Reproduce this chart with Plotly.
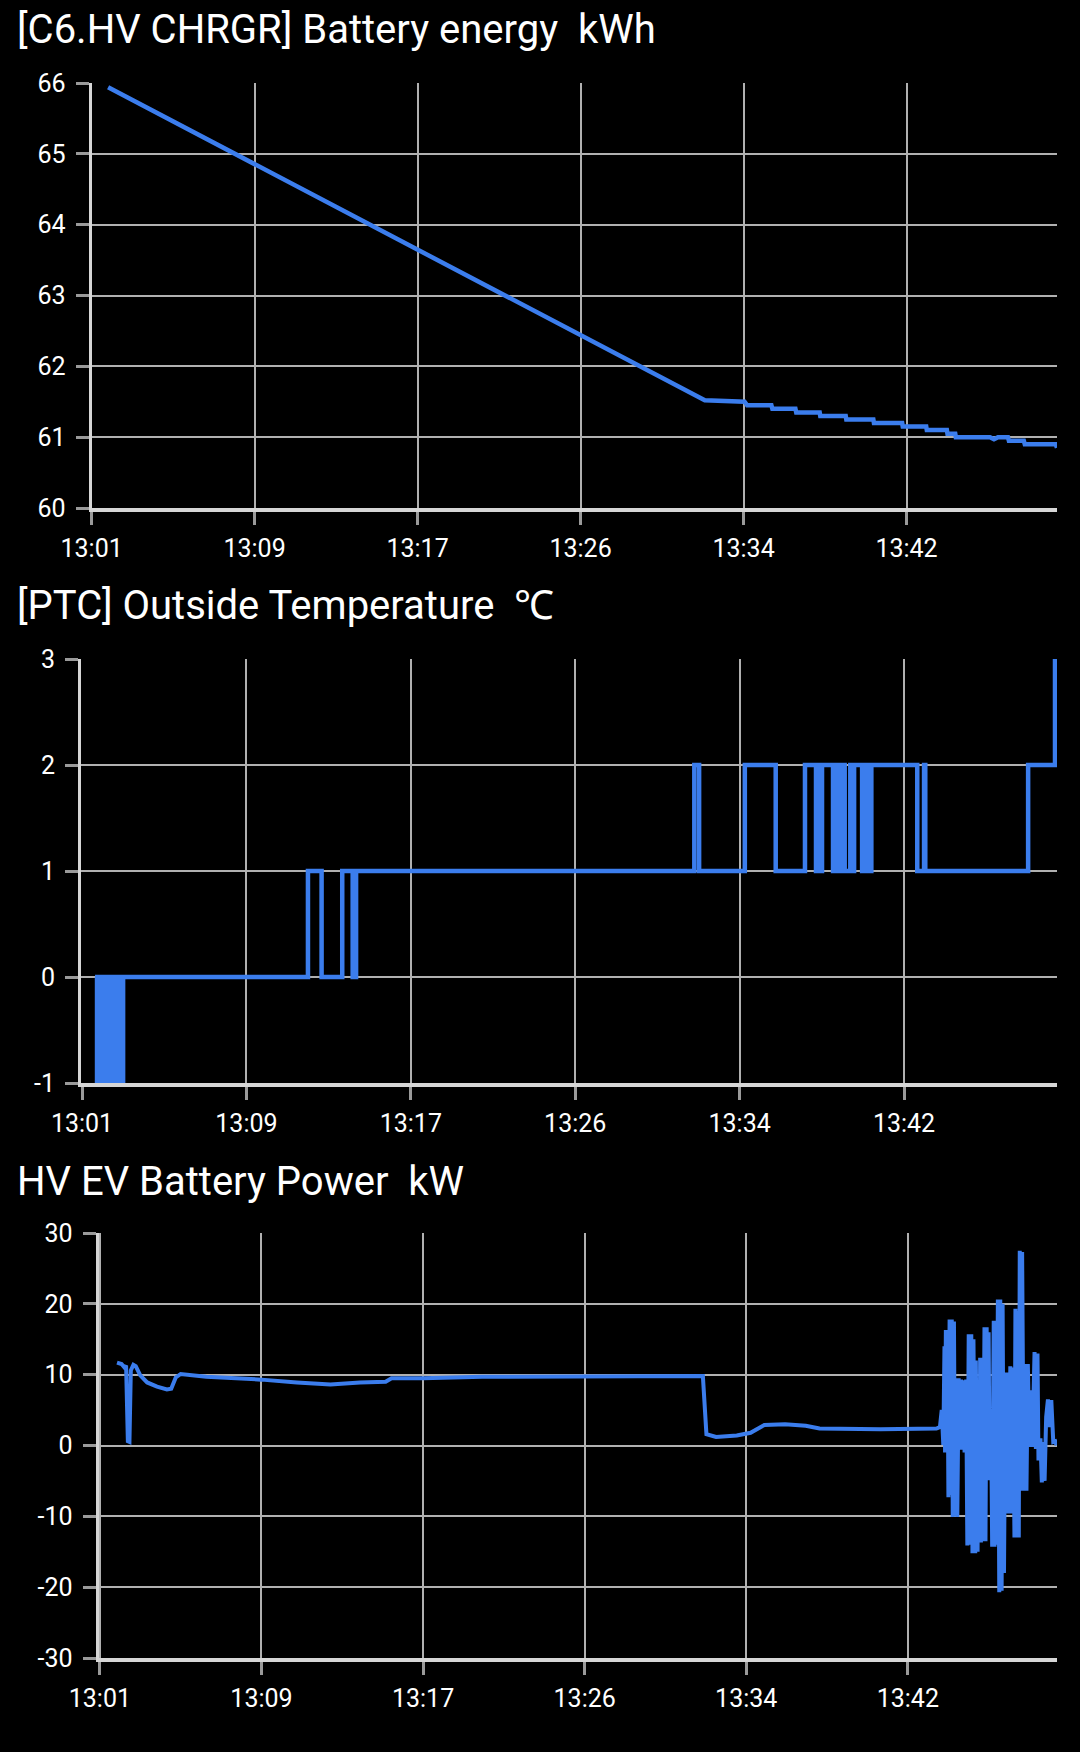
import plotly.graph_objects as go

# ---------------- data ----------------
tick_times = [0, 8.2, 16.4, 24.6, 32.8, 41.0]          # minutes after 13:01
tick_labels = ["13:01", "13:09", "13:17", "13:26", "13:34", "13:42"]

energy_t = [0.83, 30.85, 32.85, 32.98, 34.20, 34.25, 35.41, 35.45, 36.63, 36.66,
            37.94, 37.97, 39.33, 39.36, 40.78, 40.81, 41.99, 42.02, 43.03, 43.06,
            43.45, 43.48, 45.20, 45.40, 45.60, 46.10, 46.15, 46.90, 46.95, 48.50, 48.57]
energy_kwh = [65.94, 61.52, 61.50, 61.45, 61.45, 61.40, 61.40, 61.35, 61.35, 61.30,
              61.30, 61.25, 61.25, 61.20, 61.20, 61.15, 61.15, 61.10, 61.10, 61.05,
              61.05, 61.00, 61.00, 60.97, 61.00, 61.00, 60.95, 60.95, 60.90, 60.90, 60.85]
energy_ticks = [60, 61, 62, 63, 64, 65, 66]

temp_t = [0.65, 0.75, 0.85, 0.95, 1.05, 1.15, 1.25, 1.35, 1.45, 1.55, 1.65, 1.75, 1.85, 1.95, 2.05,
          11.27, 11.95, 12.98, 13.50, 13.67, 30.54, 30.78, 33.06, 34.60, 36.06,
          36.61, 36.71, 36.81, 36.91,
          37.46, 37.56, 37.66, 37.76, 37.86, 37.96, 38.04,
          38.32, 38.42, 38.51,
          38.91, 39.01, 39.11, 39.21, 39.31, 39.37,
          41.66, 42.00, 42.06, 47.19, 48.53]
temp_c = [0, -1, 0, -1, 0, -1, 0, -1, 0, -1, 0, -1, 0, -1, 0,
          1, 0, 1, 0, 1, 2, 1, 2, 1, 2,
          1, 2, 1, 2,
          1, 2, 1, 2, 1, 2, 1,
          2, 1, 2,
          1, 2, 1, 2, 1, 2,
          1, 2, 1, 2, 3]
temp_ticks = [-1, 0, 1, 2, 3]
temp_ticklabels = ["-1", "0", "1", "2", "3"]

power_t = [0.87, 1.10, 1.25, 1.33, 1.42, 1.50, 1.57, 1.70, 1.82, 2.05, 2.40, 2.90, 3.40, 3.62,
           3.85, 4.10, 5.40, 8.20, 10.00, 11.70, 13.20, 14.50, 14.80, 16.40, 19.40, 24.60,
           30.60, 30.78, 31.27, 32.32, 33.02, 33.72, 34.77, 35.82, 36.52, 39.61, 42.45, 42.63,
           42.72, 42.80, 42.86, 42.89, 42.93, 42.97, 43.01, 43.06, 43.12, 43.17, 43.23, 43.28,
           43.34, 43.40, 43.45, 43.51, 43.58, 43.65, 43.70, 43.74, 43.82, 43.88, 43.96, 44.02,
           44.09, 44.16, 44.22, 44.28, 44.33, 44.42, 44.45, 44.54, 44.57, 44.62, 44.67, 44.71,
           44.77, 44.81, 44.89, 44.94, 45.00, 45.05, 45.10, 45.15, 45.23, 45.28, 45.36, 45.40,
           45.44, 45.49, 45.57, 45.64, 45.69, 45.76, 45.81, 45.88, 45.95, 46.03, 46.10, 46.15,
           46.20, 46.29, 46.35, 46.41, 46.46, 46.51, 46.58, 46.63, 46.68, 46.71, 46.80, 46.88,
           46.95, 47.02, 47.09, 47.17, 47.26, 47.32, 47.43, 47.50, 47.58, 47.63, 47.73, 47.80,
           47.87, 47.94, 48.02, 48.11, 48.18, 48.28, 48.38, 48.48, 48.55]
power_kw = [11.7, 11.5, 11.0, 11.3, 0.6, 0.5, 10.6, 11.4, 11.2, 9.9, 8.9, 8.3, 7.9, 8.0,
            9.6, 10.1, 9.7, 9.3, 8.9, 8.6, 8.9, 9.0, 9.5, 9.5, 9.7, 9.7,
            9.8, 1.6, 1.2, 1.4, 1.8, 2.9, 3.0, 2.8, 2.4, 2.3, 2.4, 2.6,
            5.0, 0.1, 14.0, -1.0, 16.3, 3.0, 16.0, -7.3, 17.8, -7.0, 17.8, -10.1,
            17.5, -10.0, 9.5, -10.1, 9.5, -0.6, 9.3, -0.6, 9.2, -1.0, 9.3, -14.1,
            15.7, -14.0, 15.7, -15.2, 15.0, -15.2, 12.0, -15.0, 5.0, -13.7, 12.4, -13.7,
            12.4, -13.5, 16.7, -13.5, 16.7, -4.9, 16.0, -4.9, 3.0, -14.3, 17.6, -14.3,
            17.6, -14.0, 20.6, -20.7, 20.6, -20.5, 20.0, -18.0, 10.3, -9.6, 10.3, -9.6,
            11.2, -9.6, 11.0, -13.0, 19.3, -13.0, 19.0, -13.0, 27.5, -6.4, 27.3, -6.4,
            11.5, -6.4, 11.5, -0.2, 7.8, -0.2, 13.2, -0.5, 13.0, -2.1, 1.0, -5.2,
            0.5, -5.0, 4.0, 6.5, 2.6, 6.4, 0.5, 0.6, 0.0]
power_ticks = [-30, -20, -10, 0, 10, 20, 30]
power_ticklabels = ["-30", "-20", "-10", "0", "10", "20", "30"]

titles = ["[C6.HV CHRGR] Battery energy \u00a0kWh",
          "[PTC] Outside Temperature \u00a0\u2103",
          "HV EV Battery Power \u00a0kW"]

# ---------------- style ----------------
W, H = 1080, 1752
LINE = "#3b7ded"
GRID = "#b0b0b0"
AXIS = "#d6d6d6"
TICKC = "#9a9a9a"
FONT = "Roboto"


def py(px):
    return 1 - px / H


def xaxis(dom, rng, anchor):
    return dict(domain=dom, range=rng, anchor=anchor, tickmode="array",
                tickvals=tick_times, ticktext=tick_labels, automargin=False,
                showgrid=True, gridcolor=GRID, gridwidth=2,
                showline=True, linecolor=AXIS, linewidth=4,
                ticks="outside", ticklen=13, tickwidth=3, tickcolor=TICKC,
                tickfont=dict(family=FONT, size=25, color="white"),
                ticklabelstandoff=2, zeroline=False, fixedrange=True)


def yaxis(dom, rng, vals, texts, anchor):
    return dict(domain=dom, range=rng, anchor=anchor, tickmode="array",
                tickvals=vals, ticktext=texts, automargin=False,
                showgrid=True, gridcolor=GRID, gridwidth=2,
                showline=True, linecolor=AXIS, linewidth=3,
                ticks="outside", ticklen=13, tickwidth=3, tickcolor=TICKC,
                tickfont=dict(family=FONT, size=25, color="white"),
                ticklabelstandoff=5, zeroline=False, fixedrange=True)


fig = go.Figure()
fig.add_trace(go.Scatter(x=energy_t, y=energy_kwh, mode="lines",
                         line=dict(color=LINE, width=4.5), xaxis="x", yaxis="y"))
fig.add_trace(go.Scatter(x=temp_t, y=temp_c, mode="lines",
                         line=dict(color=LINE, width=4.5, shape="hv"), xaxis="x2", yaxis="y2"))
fig.add_trace(go.Scatter(x=power_t, y=power_kw, mode="lines",
                         line=dict(color=LINE, width=4), xaxis="x3", yaxis="y3"))

fig.update_layout(
    width=W, height=H, paper_bgcolor="black", plot_bgcolor="black",
    margin=dict(l=0, r=0, t=0, b=0, pad=0, autoexpand=False), showlegend=False,
    xaxis=xaxis([91.6 / W, 1057 / W], [0, 48.57], "y"),
    yaxis=yaxis([py(508), py(83)], [60, 66], energy_ticks, [str(v) for v in energy_ticks], "x"),
    xaxis2=xaxis([81 / W, 1057 / W], [-0.05, 48.63], "y2"),
    yaxis2=yaxis([py(1083), py(659)], [-1, 3], temp_ticks, temp_ticklabels, "x2"),
    xaxis3=xaxis([98.5 / W, 1057 / W], [-0.07, 48.57], "y3"),
    yaxis3=yaxis([py(1658), py(1233)], [-30, 30], power_ticks, power_ticklabels, "x3"),
)

title_y = [30, 605, 1181]
for txt, yp in zip(titles, title_y):
    fig.add_annotation(text=txt, xref="paper", yref="paper", x=15 / W, y=py(yp),
                       xanchor="left", yanchor="middle", showarrow=False,
                       font=dict(family=FONT, size=40, color="white"))

fig.write_html("out.html")
